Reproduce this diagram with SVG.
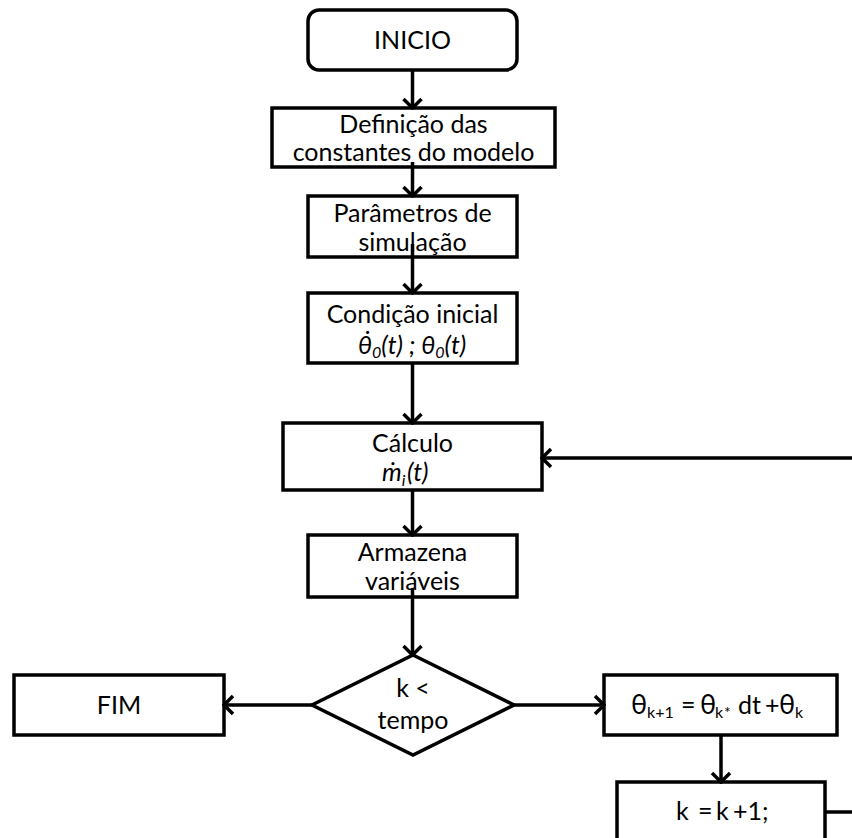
<svg xmlns="http://www.w3.org/2000/svg" width="852" height="838" viewBox="0 0 852 838">
<defs>
<style>
.box{fill:#fff;stroke:#000;stroke-width:3.5}
.t{font-family:Lato,"Liberation Sans",sans-serif;font-size:25px;fill:#000;text-anchor:middle}
.ts{font-family:Lato,"Liberation Sans",sans-serif;font-size:25px;fill:#000}
.sub{font-size:16px}
.th{font-size:27px}
.c{fill:none;stroke:#000;stroke-width:3.5}
</style>
<marker id="arr" viewBox="-12 -12 14 24" markerWidth="14" markerHeight="24" refX="0" refY="0" orient="auto" markerUnits="userSpaceOnUse">
<path d="M-9,-9 L0,0 L-9,9" fill="none" stroke="#000" stroke-width="3.5"/>
</marker>
</defs>
<rect width="852" height="838" fill="#fff"/>
<g id="inicio">
<rect class="box" x="308" y="10" width="209" height="60" rx="11"/>
<text class="t" x="412.5" y="49">INICIO</text>
</g>
<g id="definicao">
<rect class="box" x="272" y="108" width="283" height="59"/>
<text class="t" x="413.5" y="133">Definição das</text>
<text class="t" x="413.5" y="161">constantes do modelo</text>
</g>
<g id="parametros">
<rect class="box" x="308" y="196" width="209" height="61"/>
<text class="t" x="412.5" y="222">Parâmetros de</text>
<text class="t" x="412.5" y="251">simulação</text>
</g>
<g id="condicao">
<rect class="box" x="308" y="293" width="209" height="70"/>
<text class="t" x="412.5" y="323">Condição inicial</text>
<text class="ts" x="358" y="354" font-style="italic">θ̇<tspan class="sub" dy="4">0</tspan><tspan dy="-4">(t) ; θ</tspan><tspan class="sub" dy="4">0</tspan><tspan dy="-4">(t)</tspan></text>
</g>
<g id="calculo">
<rect class="box" x="283" y="423" width="259" height="67"/>
<text class="t" x="412.5" y="452">Cálculo</text>
<text class="ts" x="382" y="481" font-style="italic">ṁ<tspan class="sub" dy="5">i</tspan><tspan dy="-5" x="407">(t)</tspan></text>
</g>
<g id="armazena">
<rect class="box" x="308" y="535" width="209" height="62"/>
<text class="t" x="412.5" y="561">Armazena</text>
<text class="t" x="412.5" y="590">variáveis</text>
</g>
<g id="decisao">
<polygon class="box" points="413,655 514,705 413,755 312,705"/>
<text class="t" x="413" y="697">k &lt;</text>
<text class="t" x="413" y="729">tempo</text>
</g>
<g id="fim">
<rect class="box" x="14" y="675" width="210" height="60"/>
<text class="t" x="119" y="714">FIM</text>
</g>
<g id="atualiza-theta">
<rect class="box" x="604" y="675" width="233" height="60"/>
<text class="ts" y="714"><tspan class="th" x="631">θ</tspan><tspan class="sub" x="647" dy="4">k+1</tspan><tspan x="681" dy="-4">=</tspan><tspan class="th" x="700">θ</tspan><tspan class="sub" x="715" dy="4">k</tspan><tspan class="sub" x="724">*</tspan><tspan x="738" dy="-4">dt</tspan><tspan x="765">+</tspan><tspan class="th" x="779">θ</tspan><tspan class="sub" x="795" dy="4">k</tspan></text>
</g>
<g id="incrementa-k">
<rect class="box" x="617" y="782" width="208" height="80"/>
<text class="ts" y="820"><tspan x="676">k</tspan><tspan x="698">=</tspan><tspan x="716">k</tspan><tspan x="733">+1;</tspan></text>
</g>
<g id="connectors">
<line class="c" x1="412.5" y1="70" x2="412.5" y2="108" marker-end="url(#arr)"/>
<line class="c" x1="412.5" y1="162" x2="412.5" y2="196" marker-end="url(#arr)"/>
<line class="c" x1="412.5" y1="244" x2="412.5" y2="293" marker-end="url(#arr)"/>
<line class="c" x1="412.5" y1="363" x2="412.5" y2="423" marker-end="url(#arr)"/>
<line class="c" x1="412.5" y1="490" x2="412.5" y2="535" marker-end="url(#arr)"/>
<line class="c" x1="412.5" y1="588" x2="412.5" y2="655" marker-end="url(#arr)"/>
<line class="c" x1="312" y1="705" x2="224" y2="705" marker-end="url(#arr)"/>
<line class="c" x1="514" y1="705" x2="604" y2="705" marker-end="url(#arr)"/>
<line class="c" x1="721" y1="735" x2="721" y2="782" marker-end="url(#arr)"/>
<path class="c" d="M825,812 H862 V458 H542" marker-end="url(#arr)"/>
</g>
</svg>
